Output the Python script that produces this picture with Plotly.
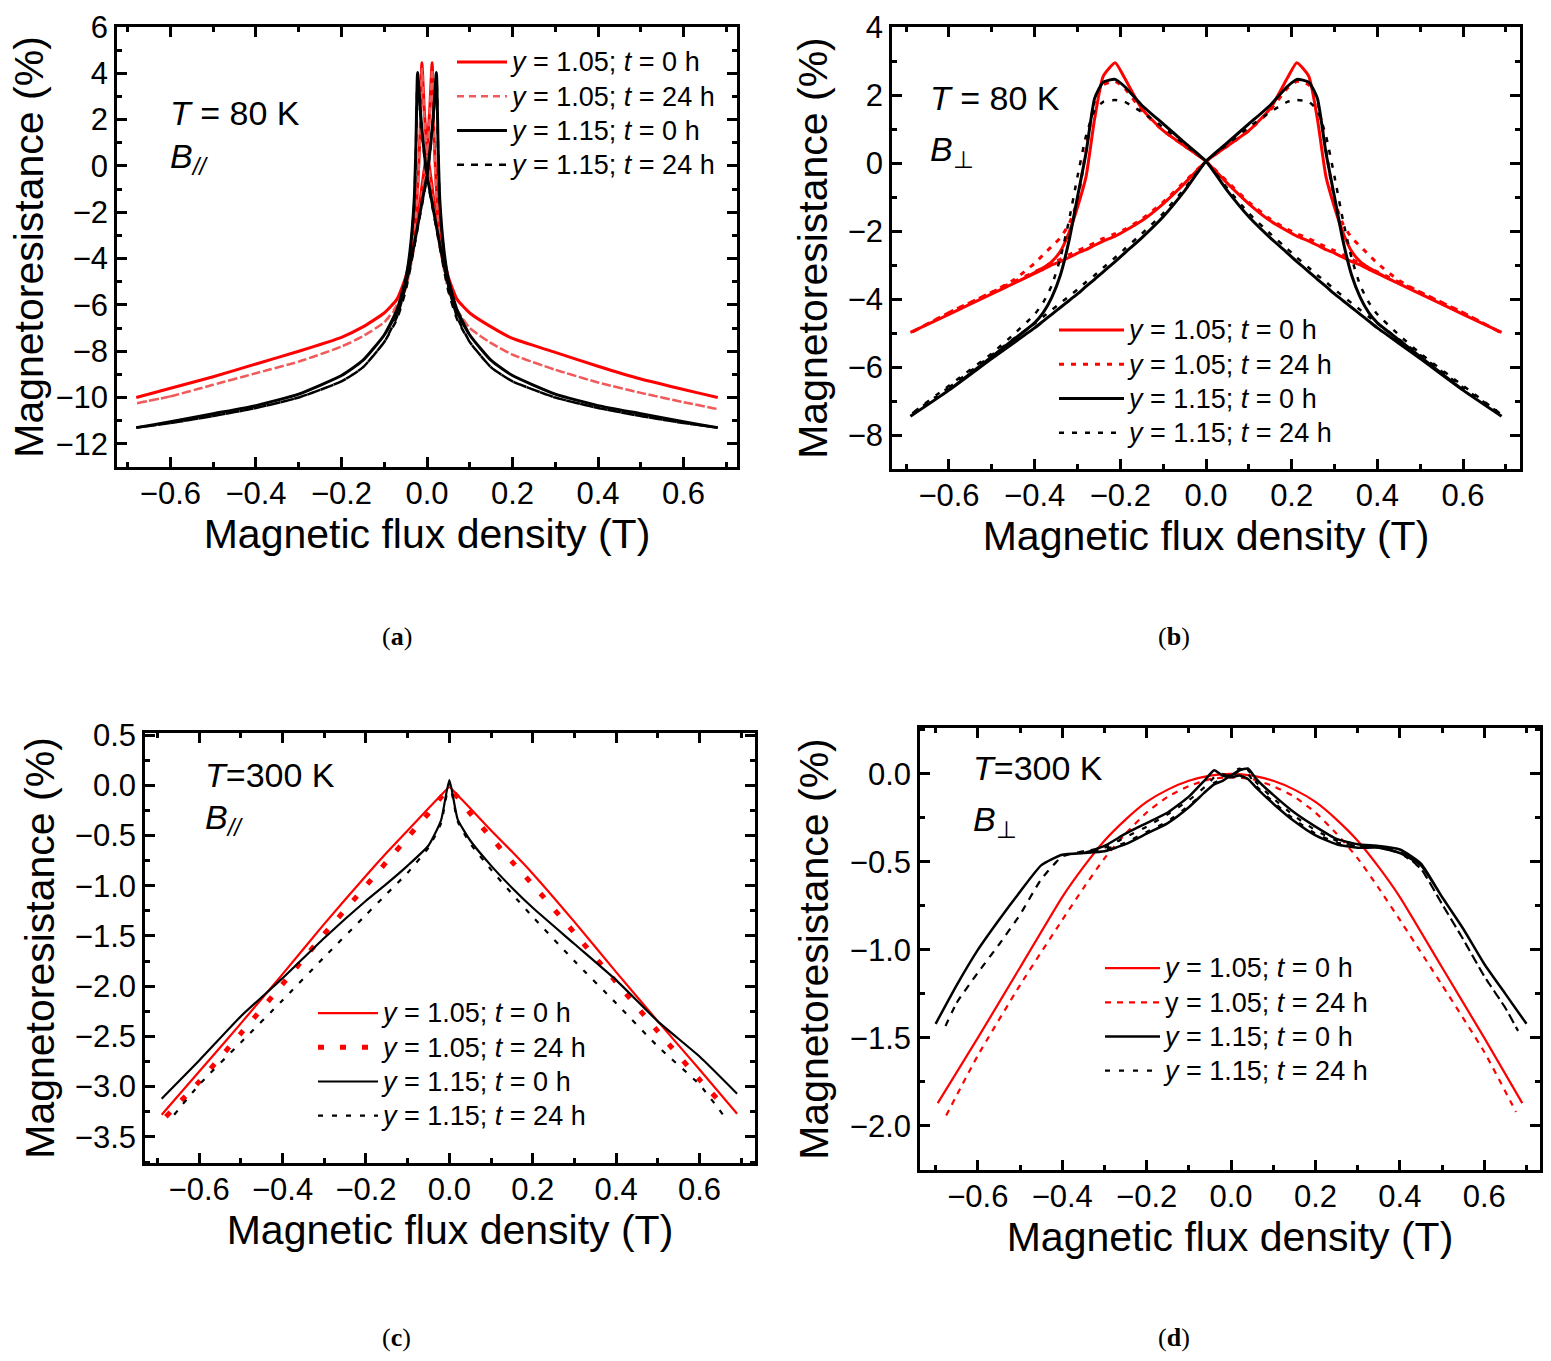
import plotly.graph_objects as go

W, H = 1551, 1361
FONT = "Liberation Sans, Arial, sans-serif"
RED = "#ff0000"
PINK = "#f05a5a"
BLACK = "#000000"


def big(s):
    # legend rows keep the 24 px pitch, the words themselves are drawn larger
    return f'<span style="font-size:27px">{s}</span>'


LABELS = [big("<i>y</i> = 1.05; <i>t</i> = 0 h"),
          big("<i>y</i> = 1.05; <i>t</i> = 24 h"),
          big("<i>y</i> = 1.15; <i>t</i> = 0 h"),
          big("<i>y</i> = 1.15; <i>t</i> = 24 h")]
LABELS_D = [LABELS[0], big("y = 1.05; <i>t</i> = 24 h"), LABELS[2], LABELS[3]]

# ---- (a) T = 80 K, B parallel: up sweep and down sweep on one field grid
B_A = [-0.68, -0.6, -0.5, -0.4, -0.3, -0.2, -0.15, -0.1, -0.07, -0.05, -0.04, -0.03,
       -0.026, -0.022, -0.016, -0.012, -0.006, 0.0, 0.006, 0.012, 0.016, 0.022, 0.026,
       0.03, 0.04, 0.05, 0.07, 0.1, 0.15, 0.2, 0.3, 0.4, 0.5, 0.6, 0.68]
A_RS_UP = [-10.0, -9.6, -9.1, -8.55, -8.0, -7.4, -6.95, -6.35, -5.75, -5.0, -4.3, -3.3,
           -2.8, -2.2, -1.5, -0.9, -0.1, 0.8, 2.3, 4.46, 1.5, -1.0, -2.0,
           -2.8, -4.0, -4.8, -5.75, -6.35, -6.95, -7.45, -8.05, -8.65, -9.2, -9.65, -10.0]
A_RS_DN = [-10.0, -9.6, -9.1, -8.55, -8.0, -7.4, -6.95, -6.35, -5.75, -4.8, -4.0, -2.8,
           -2.0, -1.0, 1.5, 4.46, 2.3, 0.8, -0.1, -0.9, -1.5, -2.2, -2.8,
           -3.3, -4.3, -5.0, -5.75, -6.35, -6.95, -7.45, -8.05, -8.65, -9.2, -9.65, -10.0]
A_RD_UP = [-10.25, -9.95, -9.45, -8.95, -8.45, -7.8, -7.35, -6.75, -6.1, -5.3, -4.5, -3.5,
           -3.0, -2.5, -1.8, -1.2, -0.4, 0.5, 2.0, 4.2, 1.3, -1.3, -2.3,
           -3.1, -4.3, -5.2, -6.2, -7.0, -7.65, -8.15, -8.8, -9.35, -9.8, -10.2, -10.5]
A_RD_DN = [-10.25, -9.95, -9.45, -8.95, -8.45, -7.8, -7.35, -6.75, -6.0, -5.1, -4.2, -3.0,
           -2.2, -1.2, 1.3, 4.2, 2.0, 0.5, -0.4, -1.2, -1.8, -2.5, -3.0,
           -3.5, -4.5, -5.4, -6.2, -7.0, -7.65, -8.15, -8.8, -9.35, -9.8, -10.2, -10.5]
A_BS_UP = [-11.3, -11.05, -10.7, -10.35, -9.85, -9.05, -8.4, -7.3, -6.3, -5.1, -4.3, -3.4,
           -3.0, -2.6, -2.0, -1.6, -1.0, -0.4, 0.5, 1.6, 2.5, 4.04, 0.8,
           -1.5, -3.7, -4.9, -6.2, -7.3, -8.4, -9.05, -9.85, -10.35, -10.7, -11.05, -11.3]
A_BS_DN = [-11.3, -11.05, -10.7, -10.35, -9.85, -9.05, -8.4, -7.3, -6.2, -4.9, -3.7, -1.5,
           0.8, 4.04, 2.5, 1.6, 0.5, -0.4, -1.0, -1.6, -2.0, -2.6, -3.0,
           -3.4, -4.3, -5.1, -6.3, -7.3, -8.4, -9.05, -9.85, -10.35, -10.7, -11.05, -11.3]
A_BD_UP = [-11.3, -11.1, -10.8, -10.45, -10.0, -9.3, -8.7, -7.6, -6.6, -5.4, -4.5, -3.5,
           -3.1, -2.7, -2.1, -1.7, -1.1, -0.5, 0.4, 1.5, 2.4, 3.9, 0.6,
           -1.7, -3.9, -5.2, -6.5, -7.6, -8.7, -9.3, -10.0, -10.45, -10.8, -11.1, -11.3]
A_BD_DN = [-11.3, -11.1, -10.8, -10.45, -10.0, -9.3, -8.7, -7.6, -6.5, -5.2, -3.9, -1.7,
           0.6, 3.9, 2.4, 1.5, 0.4, -0.5, -1.1, -1.7, -2.1, -2.7, -3.1,
           -3.5, -4.5, -5.4, -6.6, -7.6, -8.7, -9.3, -10.0, -10.45, -10.8, -11.1, -11.3]

# ---- (b) T = 80 K, B perpendicular: up sweep only, down sweep is its mirror image
B_B = [-0.69, -0.6, -0.5, -0.45, -0.4, -0.38, -0.36, -0.34, -0.32, -0.3, -0.28, -0.26,
       -0.24, -0.212, -0.19, -0.15, -0.1, -0.05, 0.0, 0.05, 0.1, 0.15, 0.19, 0.212,
       0.24, 0.26, 0.28, 0.3, 0.32, 0.34, 0.36, 0.38, 0.4, 0.45, 0.5, 0.6, 0.69]
B_RS_UP = [-4.98, -4.45, -3.85, -3.55, -3.25, -3.13, -3.0, -2.9, -2.78, -2.65, -2.55, -2.42,
           -2.3, -2.15, -2.0, -1.7, -1.2, -0.6, 0.05, 0.5, 0.95, 1.6, 2.5, 2.95,
           2.55, 1.3, -0.4, -1.3, -2.05, -2.6, -2.9, -3.08, -3.22, -3.55, -3.85, -4.45, -4.98]
B_RD_UP = [-5.0, -4.4, -3.8, -3.5, -3.2, -3.08, -2.95, -2.83, -2.7, -2.58, -2.47, -2.35,
           -2.22, -2.08, -1.95, -1.65, -1.15, -0.55, 0.05, 0.5, 0.95, 1.55, 2.2, 2.4,
           2.3, 1.8, 0.4, -1.1, -1.8, -2.2, -2.45, -2.7, -2.95, -3.45, -3.8, -4.4, -5.0]
B_BS_UP = [-7.45, -6.68, -5.75, -5.3, -4.85, -4.65, -4.45, -4.25, -4.05, -3.85, -3.63, -3.42,
           -3.2, -2.9, -2.65, -2.2, -1.58, -0.82, 0.05, 0.6, 1.15, 1.7, 2.25, 2.46,
           2.38, 1.9, 0.3, -1.0, -2.3, -3.3, -3.95, -4.4, -4.7, -5.2, -5.7, -6.68, -7.45]
B_BD_UP = [-7.4, -6.6, -5.65, -5.18, -4.72, -4.52, -4.32, -4.12, -3.92, -3.72, -3.5, -3.3,
           -3.08, -2.78, -2.53, -2.08, -1.48, -0.75, 0.05, 0.55, 1.05, 1.5, 1.8, 1.85,
           1.8, 1.55, 0.8, -0.4, -1.7, -2.8, -3.6, -4.1, -4.45, -5.05, -5.6, -6.55, -7.4]

# ---- (c) T = 300 K, B parallel
B_C = [-0.69, -0.6, -0.5, -0.4, -0.3, -0.2, -0.15, -0.1, -0.05, -0.02, 0.0,
       0.02, 0.05, 0.1, 0.15, 0.2, 0.3, 0.4, 0.5, 0.6, 0.69]
B_C_RD = [-0.68, -0.6, -0.5, -0.4, -0.3, -0.2, -0.15, -0.1, -0.05, -0.02, 0.0,
          0.02, 0.05, 0.1, 0.15, 0.2, 0.3, 0.4, 0.5, 0.6, 0.66]
B_C_BD = [-0.66, -0.6, -0.5, -0.4, -0.3, -0.2, -0.15, -0.1, -0.05, -0.02, 0.0,
          0.02, 0.05, 0.1, 0.15, 0.2, 0.3, 0.4, 0.5, 0.6, 0.66]
C_RS = [-3.28, -2.85, -2.37, -1.88, -1.38, -0.9, -0.67, -0.45, -0.23, -0.1, -0.02,
        -0.1, -0.23, -0.45, -0.66, -0.88, -1.36, -1.86, -2.35, -2.83, -3.27]
C_RD = [-3.3, -2.95, -2.47, -1.98, -1.48, -1.0, -0.76, -0.52, -0.28, -0.12, -0.04,
        -0.12, -0.28, -0.52, -0.76, -0.99, -1.47, -1.96, -2.45, -2.93, -3.2]
C_BS = [-3.12, -2.74, -2.3, -1.92, -1.52, -1.15, -0.98, -0.8, -0.6, -0.35, 0.05,
        -0.34, -0.55, -0.8, -1.02, -1.22, -1.58, -1.94, -2.35, -2.7, -3.07]
C_BD = [-3.28, -2.98, -2.56, -2.14, -1.71, -1.29, -1.08, -0.87, -0.62, -0.38, 0.02,
        -0.36, -0.58, -0.84, -1.08, -1.31, -1.75, -2.17, -2.6, -2.98, -3.3]

# ---- (d) T = 300 K, B perpendicular
B_D = [-0.695, -0.6, -0.5, -0.4, -0.35, -0.3, -0.25, -0.2, -0.15, -0.1, -0.05, 0.0,
       0.05, 0.1, 0.15, 0.2, 0.25, 0.3, 0.35, 0.4, 0.5, 0.6, 0.69]
B_D_RD = [-0.675, -0.6, -0.5, -0.4, -0.35, -0.3, -0.25, -0.2, -0.15, -0.1, -0.05, 0.0,
          0.05, 0.1, 0.15, 0.2, 0.25, 0.3, 0.35, 0.4, 0.5, 0.6, 0.675]
D_RS = [-1.87, -1.5, -1.1, -0.7, -0.53, -0.38, -0.26, -0.16, -0.09, -0.04, -0.01, 0.0,
        -0.01, -0.04, -0.09, -0.16, -0.26, -0.38, -0.53, -0.7, -1.1, -1.5, -1.87]
D_RD = [-1.94, -1.6, -1.2, -0.83, -0.65, -0.48, -0.34, -0.22, -0.13, -0.07, -0.03, -0.02,
        -0.03, -0.07, -0.13, -0.22, -0.34, -0.48, -0.65, -0.83, -1.2, -1.58, -1.92]
B_D_BS = [-0.7, -0.65, -0.6, -0.55, -0.5, -0.45, -0.4, -0.35, -0.3, -0.25, -0.2, -0.15,
          -0.1, -0.06, -0.04, -0.02, 0.0, 0.02, 0.04, 0.06, 0.1, 0.15, 0.2, 0.25,
          0.3, 0.35, 0.4, 0.45, 0.5, 0.55, 0.6, 0.65, 0.7]
B_D_BD = [-0.68, -0.65, -0.6, -0.55, -0.5, -0.45, -0.4, -0.35, -0.3, -0.25, -0.2, -0.15,
          -0.1, -0.06, -0.04, -0.02, 0.0, 0.02, 0.04, 0.06, 0.1, 0.15, 0.2, 0.25,
          0.3, 0.35, 0.4, 0.45, 0.5, 0.55, 0.6, 0.65, 0.68]
D_BS_UP = [-1.42, -1.2, -1.0, -0.83, -0.67, -0.52, -0.46, -0.45, -0.41, -0.34, -0.28, -0.22,
           -0.13, -0.03, 0.02, -0.01, -0.02, -0.01, -0.03, -0.08, -0.17, -0.27, -0.35, -0.4,
           -0.42, -0.42, -0.45, -0.52, -0.7, -0.88, -1.08, -1.25, -1.42]
D_BS_DN = [-1.42, -1.2, -1.0, -0.83, -0.67, -0.52, -0.46, -0.45, -0.44, -0.4, -0.34, -0.28,
           -0.19, -0.1, -0.06, -0.04, -0.01, 0.02, 0.03, -0.03, -0.12, -0.22, -0.3, -0.37,
           -0.4, -0.41, -0.43, -0.51, -0.7, -0.88, -1.08, -1.25, -1.42]
D_BD_UP = [-1.45, -1.3, -1.13, -0.97, -0.8, -0.6, -0.47, -0.44, -0.42, -0.36, -0.3, -0.23,
           -0.15, -0.07, -0.02, 0.0, -0.02, 0.02, 0.02, -0.05, -0.14, -0.24, -0.32, -0.38,
           -0.41, -0.41, -0.44, -0.54, -0.74, -0.94, -1.15, -1.33, -1.46]
D_BD_DN = [-1.45, -1.3, -1.13, -0.97, -0.8, -0.6, -0.47, -0.44, -0.43, -0.39, -0.33, -0.27,
           -0.18, -0.1, -0.05, -0.03, 0.0, 0.03, 0.0, -0.07, -0.16, -0.26, -0.34, -0.39,
           -0.41, -0.42, -0.45, -0.54, -0.74, -0.94, -1.15, -1.33, -1.46]


def loop(b, up, dn):
    # sweep -B -> +B along "up", then back along "dn"
    return b + b[::-1], up + dn[::-1]


def mirrored(b, up):
    # return sweep is the field-reversed copy of the up sweep
    return b + [-v for v in b], up + up


def px(x):
    return x / W


def py(y):
    return 1 - y / H


fig = go.Figure()


def add(x, y, name, color, width, dash, n, legend, smooth=0.5):
    fig.add_trace(go.Scatter(
        x=x, y=y, mode="lines", name=name,
        line=dict(color=color, width=width, dash=dash, shape="spline", smoothing=smooth),
        xaxis="x" if n == 1 else f"x{n}", yaxis="y" if n == 1 else f"y{n}",
        legend=legend, hoverinfo="skip"))


# (a)
add(*loop(B_A, A_RS_UP, A_RS_DN), LABELS[0], RED, 3, "solid", 1, "legend")
add(*loop(B_A, A_RD_UP, A_RD_DN), LABELS[1], PINK, 2.5, "7px,5px", 1, "legend")
add(*loop(B_A, A_BS_UP, A_BS_DN), LABELS[2], BLACK, 3, "solid", 1, "legend")
add(*loop(B_A, A_BD_UP, A_BD_DN), LABELS[3], BLACK, 2.5, "7px,7px", 1, "legend")
# (b)
add(*mirrored(B_B, B_RS_UP), LABELS[0], RED, 3, "solid", 2, "legend2")
add(*mirrored(B_B, B_RD_UP), LABELS[1], RED, 3, "5px,7px", 2, "legend2")
add(*mirrored(B_B, B_BS_UP), LABELS[2], BLACK, 3, "solid", 2, "legend2")
add(*mirrored(B_B, B_BD_UP), LABELS[3], BLACK, 2.5, "5px,8px", 2, "legend2")
# (c)
add(B_C, C_RS, LABELS[0], RED, 2.2, "solid", 3, "legend3")
add(B_C_RD, C_RD, LABELS[1], RED, 5, "6px,16px", 3, "legend3")
add(B_C, C_BS, LABELS[2], BLACK, 2.2, "solid", 3, "legend3")
add(B_C_BD, C_BD, LABELS[3], BLACK, 2.2, "5px,9px", 3, "legend3")
# (d)
add(B_D, D_RS, LABELS_D[0], RED, 2.2, "solid", 4, "legend4")
add(B_D_RD, D_RD, LABELS_D[1], RED, 2.2, "6px,6px", 4, "legend4")
add(*loop(B_D_BS, D_BS_UP, D_BS_DN), LABELS_D[2], BLACK, 2.5, "solid", 4, "legend4")
add(*loop(B_D_BD, D_BD_UP, D_BD_DN), LABELS_D[3], BLACK, 2.2, "5px,9px", 4, "legend4")


def axis(dom, rng, dtick, minor, fmt, title, anchor, standoff, lab_off=0):
    return dict(
        domain=dom, range=rng, dtick=dtick, tick0=0, tickformat=fmt,
        showline=True, mirror="ticks", linecolor="black", linewidth=2.5,
        ticks="inside", ticklen=10, tickwidth=2.5, tickcolor="black",
        minor=dict(ticks="inside", ticklen=5, tickwidth=2.5, dtick=minor,
                   tickcolor="black", showgrid=False),
        showgrid=False, zeroline=False, anchor=anchor, automargin=False,
        ticklabelstandoff=lab_off,
        tickfont=dict(family=FONT, size=31, color="black"),
        title=dict(text=title, font=dict(family=FONT, size=41, color="black"),
                   standoff=standoff),
    )


XT = "Magnetic flux density (T)"
YT = "Magnetoresistance (%)"

panels = [
    # x domain px, y domain px, x range, y range, y dtick, y minor, y fmt, x/y title gap
    ((117, 737), (27, 467), [-0.725, 0.725], [-13, 6], 2, 1, "d", 0, 0),
    ((892, 1520), (27, 469), [-0.733, 0.733], [-9, 4], 2, 1, "d", 2, 8),
    ((145, 755), (733, 1163), [-0.73, 0.733], [-3.76, 0.52], 0.5, 0.25, ".1f", 2, 8),
    ((920, 1540), (728, 1170), [-0.737, 0.732], [-2.25, 0.26], 0.5, 0.25, ".1f", 2, 9),
]

layout = dict(
    width=W, height=H, margin=dict(l=0, r=0, t=0, b=0, autoexpand=False),
    paper_bgcolor="white", plot_bgcolor="white", showlegend=True,
    font=dict(family=FONT, color="black"),
)

for i, (xd, yd, xr, yr, ydt, ymin, yfmt, xs, ys) in enumerate(panels, start=1):
    sx = "" if i == 1 else str(i)
    layout["xaxis" + sx] = axis([px(xd[0]), px(xd[1])], xr, 0.2, 0.1, ".1f", XT,
                                "y" + sx, xs, lab_off=-3)
    layout["yaxis" + sx] = axis([py(yd[1]), py(yd[0])], yr, ydt, ymin, yfmt, YT,
                                "x" + sx, ys)

legend_pos = [(452, 40, 50), (1054, 308, 65), (313, 991, 60), (1100, 946, 55)]
for i, (lx, ly, iw) in enumerate(legend_pos, start=1):
    key = "legend" if i == 1 else f"legend{i}"
    layout[key] = dict(
        x=px(lx), y=py(ly), xanchor="left", yanchor="top",
        bgcolor="rgba(0,0,0,0)", borderwidth=0, itemwidth=iw,
        font=dict(family=FONT, size=24, color="black"), tracegroupgap=0,
    )

notes = [
    (168, 113, "<i>T</i> = 80 K"), (168, 158, "<i>B</i><sub><i>//</i></sub>"),
    (928, 98, "<i>T</i> = 80 K"), (928, 152, "<i>B</i><sub>⊥</sub>"),
    (203, 775, "<i>T</i>=300 K"), (203, 820, "<i>B</i><sub><i>//</i></sub>"),
    (971, 768, "<i>T</i>=300 K"), (971, 822, "<i>B</i><sub>⊥</sub>"),
]
annotations = [dict(x=px(x), y=py(y), xref="paper", yref="paper", text=t,
                    showarrow=False, xanchor="left", yanchor="middle",
                    font=dict(family=FONT, size=34, color="black"))
               for x, y, t in notes]

captions = [(397, 637, "a"), (1174, 637, "b"), (397, 1337, "c"), (1174, 1337, "d")]
for x, y, c in captions:
    annotations.append(dict(x=px(x), y=py(y), xref="paper", yref="paper",
                            text=f"(<b>{c}</b>)", showarrow=False,
                            xanchor="center", yanchor="middle",
                            font=dict(family="Liberation Serif, serif", size=26,
                                      color="black")))
layout["annotations"] = annotations

fig.update_layout(**layout)
fig.write_html("out.html", config={"displayModeBar": False},
               post_script="document.body.style.margin='0';")
